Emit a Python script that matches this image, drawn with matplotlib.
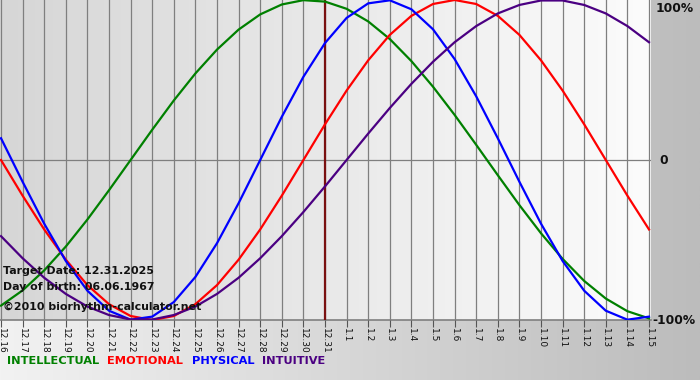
import numpy as np
import matplotlib
matplotlib.use("Agg")
import matplotlib.pyplot as plt
from matplotlib.colors import LinearSegmentedColormap

# ---- data ----
dates = ["12.16", "12.17", "12.18", "12.19", "12.20", "12.21", "12.22", "12.23",
         "12.24", "12.25", "12.26", "12.27", "12.28", "12.29", "12.30", "12.31",
         "1.1", "1.2", "1.3", "1.4", "1.5", "1.6", "1.7", "1.8", "1.9", "1.10",
         "1.11", "1.12", "1.13", "1.14", "1.15"]
intellectual = [-0.910, -0.815, -0.690, -0.541, -0.372, -0.189, 0.000, 0.189,
                0.372, 0.541, 0.690, 0.815, 0.910, 0.972, 0.999, 0.990,
                0.945, 0.866, 0.756, 0.618, 0.458, 0.282, 0.095, -0.095,
                -0.282, -0.458, -0.618, -0.756, -0.866, -0.945, -0.990]
emotional = [0.000, -0.223, -0.434, -0.623, -0.782, -0.901, -0.975, -1.000,
             -0.975, -0.901, -0.782, -0.623, -0.434, -0.223, 0.000, 0.223,
             0.434, 0.623, 0.782, 0.901, 0.975, 1.000, 0.975, 0.901,
             0.782, 0.623, 0.434, 0.223, 0.000, -0.223, -0.434]
physical = [0.136, -0.136, -0.398, -0.631, -0.817, -0.942, -0.998, -0.979,
            -0.888, -0.731, -0.520, -0.270, 0.000, 0.270, 0.520, 0.731,
            0.888, 0.979, 0.998, 0.942, 0.817, 0.631, 0.398, 0.136,
            -0.136, -0.398, -0.631, -0.817, -0.942, -0.998, -0.979]
intuitive = [-0.476, -0.614, -0.736, -0.837, -0.916, -0.969, -0.997, -0.997,
             -0.969, -0.916, -0.837, -0.736, -0.614, -0.476, -0.325, -0.165,
             0.000, 0.165, 0.325, 0.476, 0.614, 0.736, 0.837, 0.916,
             0.969, 0.997, 0.997, 0.969, 0.916, 0.837, 0.736]
target_index = 15
series_names = ["INTELLECTUAL", "EMOTIONAL", "PHYSICAL", "INTUITIVE"]
y_labels = ["100%", "0", "-100%"]
info_lines = ["Target Date: 12.31.2025", "Day of birth: 06.06.1967",
              "\u00a92010 biorhythm-calculator.net"]

# ---- figure ----
W, H = 700, 380
fig = plt.figure(figsize=(W / 100, H / 100), dpi=100)

bg = fig.add_axes([0, 0, 1, 1], zorder=-10)
grad = np.linspace(0, 1, 256).reshape(1, -1)
cm_out = LinearSegmentedColormap.from_list("o", ["#f2f2f2", "#bcbcbc"])
bg.imshow(grad, aspect="auto", cmap=cm_out, extent=[0, 1, 0, 1])
bg.set_axis_off()

ax = fig.add_axes([0, 1 - 320 / H, 651 / W, 320 / H])
x = np.arange(len(dates))
xmin, xmax = -1 / 21.6, 650 / 21.6
ax.set_xlim(xmin, xmax)
ax.set_ylim(-1.0, 1.0)

cm_in = LinearSegmentedColormap.from_list("i", ["#d6d6d6", "#fcfcfc"])
ax.imshow(grad, aspect="auto", cmap=cm_in, extent=[xmin, xmax, -1.0, 1.0], zorder=0)

for xi in x:
    ax.axvline(xi, color="#7f7f7f", lw=0.9, zorder=1)
ax.axhline(0, color="#7f7f7f", lw=0.9, zorder=1)
ax.axhline(-1.0, color="#7f7f7f", lw=1.2, zorder=1, clip_on=False)

ax.axvline(target_index, color="#7a1010", lw=1.6, zorder=2)

colors = ["#008000", "#ff0000", "#0000ff", "#4b0082"]
for vals, c in zip([intellectual, emotional, physical, intuitive], colors):
    ax.plot(x, vals, color=c, lw=1.6, zorder=3, solid_joinstyle="round")

for s in ax.spines.values():
    s.set_visible(False)
ax.set_xticks(x)
ax.set_xticklabels(dates, rotation=-90, fontsize=6.5, color="#111111")
ax.tick_params(axis="x", length=5, width=0.8, color="#555555", pad=1)
ax.set_yticks([])

fig.text(656 / W, 1 - 8 / H, y_labels[0], fontsize=8.8, fontweight="bold",
         ha="left", va="center", color="#111111")
fig.text(659 / W, 1 - 161 / H, y_labels[1], fontsize=8.8, fontweight="bold",
         ha="left", va="center", color="#111111")
fig.text(652 / W, 1 - 321 / H, y_labels[2], fontsize=8.8, fontweight="bold",
         ha="left", va="center", color="#111111")

for line, yp in zip(info_lines, [271, 287, 307]):
    fig.text(3 / W, 1 - yp / H, line, fontsize=7.9, fontweight="bold",
             ha="left", va="center", color="#111111", zorder=5)

for name, c, xp in zip(series_names, colors, [7, 107, 192, 262]):
    fig.text(xp / W, 1 - 361 / H, name, fontsize=8.2, fontweight="bold",
             color=c, ha="left", va="center")

fig.savefig("out.png", dpi=100)
